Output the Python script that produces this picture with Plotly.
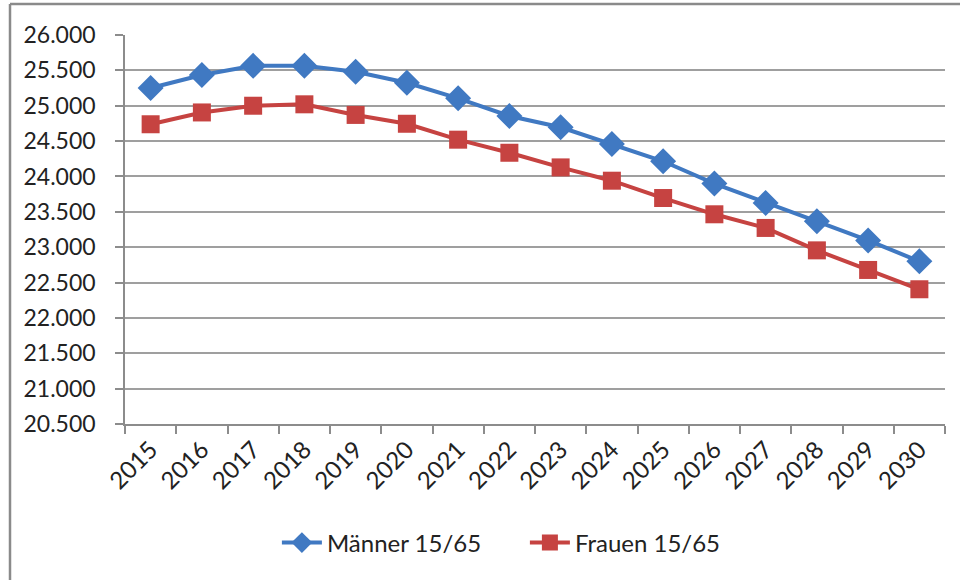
import plotly.graph_objects as go

years = [str(y) for y in range(2015, 2031)]
maenner = [25250, 25435, 25565, 25565, 25480, 25325, 25105, 24855, 24695,
           24460, 24215, 23900, 23625, 23365, 23095, 22800]
frauen = [24738, 24905, 25000, 25020, 24870, 24745, 24520, 24335, 24128,
          23940, 23695, 23465, 23272, 22955, 22678, 22405]
series_names = ["Männer 15/65", "Frauen 15/65"]

BLUE = "#4079C2"
RED = "#C64341"
FONT = "Lato"

fig = go.Figure()
fig.add_trace(go.Scatter(
    x=years, y=maenner, name=series_names[0], mode="lines+markers",
    line=dict(color=BLUE, width=4),
    marker=dict(symbol="diamond", size=20, color=BLUE),
))
fig.add_trace(go.Scatter(
    x=years, y=frauen, name=series_names[1], mode="lines+markers",
    line=dict(color=RED, width=4),
    marker=dict(symbol="square", size=18, color=RED),
))

L, R, T, B = 125, 15, 35, 156
W, H = 960, 580
pw, ph = W - L - R, H - T - B


def px(x):
    return (x - L) / pw


def py(y):
    return (H - B - y) / ph


fig.update_layout(
    width=W, height=H,
    margin=dict(l=L, r=R, t=T, b=B),
    paper_bgcolor="white", plot_bgcolor="white",
    separators=",.",
    font=dict(family=FONT, color="#222222", size=22),
    showlegend=True,
    legend=dict(
        orientation="h", x=px(281) - 0.005, xanchor="left", y=py(543), yanchor="middle",
        font=dict(family=FONT, size=24, color="#222222"),
        itemwidth=40, tracegroupgap=0, entrywidth=193, entrywidthmode="pixels",
    ),
    xaxis=dict(
        type="category", showgrid=False, showline=True, linecolor="#8c8c8c",
        linewidth=2, ticks="outside", tickson="boundaries", ticklen=8,
        tickcolor="#8c8c8c", tickwidth=1.5, tickangle=-45,
        tickfont=dict(family=FONT, size=24, color="#222222"),
        range=[-0.5, 15.5],
    ),
    yaxis=dict(
        range=[20500, 26000], dtick=500, tick0=20500, tickformat=",d",
        showgrid=True, gridcolor="#9f9f9f", gridwidth=1.5,
        showline=True, linecolor="#8c8c8c", linewidth=1.5,
        ticks="outside", ticklen=8, tickcolor="#8c8c8c", tickwidth=1.5,
        ticklabelstandoff=15, zeroline=False,
        tickfont=dict(family=FONT, size=23, color="#222222"),
    ),
    shapes=[
        dict(type="line", xref="paper", yref="paper", x0=px(10), x1=px(10),
             y0=py(4), y1=py(580), line=dict(color="#8a8a8a", width=2.5)),
        dict(type="line", xref="paper", yref="paper", x0=px(10), x1=px(960),
             y0=py(4), y1=py(4), line=dict(color="#8a8a8a", width=2.5)),
    ],
)

fig.write_html("out.html", config={"displayModeBar": False},
               post_script="document.body.style.margin='0';")
